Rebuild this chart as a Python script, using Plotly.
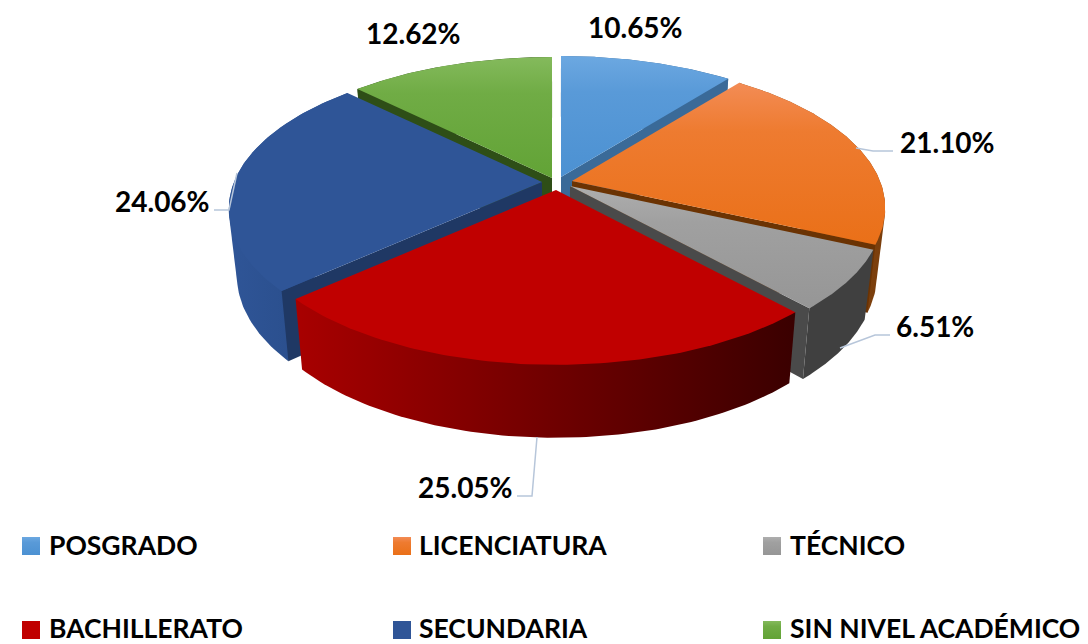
import numpy as np
import plotly.graph_objects as go

categories = ["POSGRADO", "LICENCIATURA", "TÉCNICO", "BACHILLERATO", "SECUNDARIA", "SIN NIVEL ACADÉMICO"]
values = [10.65, 21.10, 6.51, 25.05, 24.06, 12.62]
labels = ["10.65%", "21.10%", "6.51%", "25.05%", "24.06%", "12.62%"]

# styling / layout
apex_x = [561, 572, 570, 556, 542, 552]
apex_y = [177, 181, 186, 190, 182, 178]
top_colors = [("#6CA8E1", "#4C91D2"), ("#F38C55", "#EA7018"), ("#AEAEAE", "#969696"),
              ("#C00000", "#C00000"), ("#2F5597", "#2F5597"), ("#84BA5C", "#62A336")]
wall_colors = [("#3A6A98", "#3A6A98"), ("#8F4A10", "#7A3E0C"), ("#404040", "#404040"),
               ("#A80000", "#3A0000"), ("#2F5597", "#274A85"), ("#2F5018", "#2F5018")]
inner_colors = ["#3A6A98", "#6B3303", "#4A4A4A", "#3A0000", "#1F3864", "#2E4E17"]
draw_order = [0, 5, 1, 4, 2, 3]
label_x = [635, 947, 935, 465, 162, 413]
label_y = [27, 142, 326, 487, 201, 33]
legend_text_x = [48, 418, 789, 48, 418, 789]
legend_box_x = [22, 393, 763, 22, 393, 763]
legend_box_y = [546, 546, 546, 630, 630, 630]
legend_y = [545, 545, 545, 628, 628, 628]
leaders = [([856, 873, 893], [148, 151, 151]),
           ([890, 875, 840], [335, 335, 348]),
           ([517, 532, 537], [496, 496, 437]),
           ([214, 229, 237], [210, 210, 173])]
LEADER = "#B7C6DA"
CX = 555
R, A, B = 308, 143, 0.182
FONT = "Lato"


def ring(deg, ax, ay):
    t = np.radians(deg)
    s = -np.cos(t)
    d = 1 - B * s
    return ax + R * np.sin(t) / d, ay + A * s / d


def drop(x, y):
    s = np.clip((y - 190) / 175, -1, 1)
    return CX + (x - CX) * 0.975, y + 66 + 7 * s


def hull(xs, ys):
    pts = sorted(set(zip(np.round(xs, 3).tolist(), np.round(ys, 3).tolist())))

    def half(seq):
        out = []
        for p in seq:
            while len(out) >= 2 and ((out[-1][0] - out[-2][0]) * (p[1] - out[-2][1])
                                     - (out[-1][1] - out[-2][1]) * (p[0] - out[-2][0])) <= 0:
                out.pop()
            out.append(p)
        return out[:-1]

    h = half(pts) + half(pts[::-1])
    h.append(h[0])
    return [p[0] for p in h], [p[1] for p in h]


def mix(c0, c1, t):
    a = [int(c0[i:i + 2], 16) for i in (1, 3, 5)]
    b = [int(c1[i:i + 2], 16) for i in (1, 3, 5)]
    return "#" + "".join(f"{round(u + (v - u) * t):02X}" for u, v in zip(a, b))


fig = go.Figure()


def poly(x, y, c0, c1, kind="vertical"):
    x, y = np.asarray(x, float), np.asarray(y, float)
    if kind == "vertical":
        start, stop = float(y.min()), float(y.max())
        scale = [[0, c0], [0.3, mix(c0, c1, 0.6)], [1, c1]]
    else:
        start, stop = float(x.min()), float(x.max())
        scale = [[0, c0], [1, c1]]
    grad = dict(type=kind, start=start, stop=stop, colorscale=scale)
    fig.add_trace(go.Scatter(x=x, y=y, mode="lines", line=dict(width=0), fill="toself",
                             fillgradient=grad, hoverinfo="skip", showlegend=False))


edges = np.concatenate([[0], np.cumsum(values) / np.sum(values) * 360])
for i in draw_order:
    a0, a1 = edges[i], edges[i + 1]
    ax, ay = apex_x[i], apex_y[i]
    arc = np.linspace(a0, a1, 90)
    tx, ty = ring(arc, ax, ay)
    bx, by = drop(tx, ty)
    apx, apy = drop(ax, ay)
    # outer wall
    hx, hy = hull(np.r_[tx, bx], np.r_[ty, by])
    poly(hx, hy, wall_colors[i][0], wall_colors[i][1], "horizontal")
    # cut walls: only the ones whose wedge interior lies above the cut in the picture
    for k in (0, -1):
        dx = tx[k] - ax
        if abs(dx) < 1:
            continue
        edge_y = ay + (tx[45] - ax) / dx * (ty[k] - ay)
        if ty[45] < edge_y:
            poly([ax, tx[k], bx[k], apx, ax], [ay, ty[k], by[k], apy, ay],
                 inner_colors[i], inner_colors[i])
    # top
    poly(np.r_[ax, tx, ax], np.r_[ay, ty, ay], top_colors[i][0], top_colors[i][1])

for lx, ly in leaders:
    fig.add_trace(go.Scatter(x=lx, y=ly, mode="lines", line=dict(color=LEADER, width=1.5),
                             hoverinfo="skip", showlegend=False))

for i, c in enumerate(categories):
    x0, yc = legend_box_x[i], legend_box_y[i]
    poly([x0, x0 + 18, x0 + 18, x0, x0], [yc - 9, yc - 9, yc + 9, yc + 9, yc - 9],
         top_colors[i][0], top_colors[i][1])
    fig.add_annotation(x=legend_text_x[i] - 1, y=legend_y[i], text=f"<b>{c}</b>", showarrow=False,
                       xanchor="left", yanchor="middle", font=dict(family=FONT, size=26.5, color="#000"))
    fig.add_annotation(x=label_x[i], y=label_y[i], text=f"<b>{labels[i]}</b>", showarrow=False,
                       xanchor="center", yanchor="middle", font=dict(family=FONT, size=28, color="#000"))

fig.update_layout(width=1088, height=644, margin=dict(l=0, r=0, t=0, b=0),
                  paper_bgcolor="#fff", plot_bgcolor="#fff", showlegend=False,
                  xaxis=dict(range=[0, 1088], visible=False, fixedrange=True),
                  yaxis=dict(range=[644, 0], visible=False, fixedrange=True))
fig.write_html("out.html", config=dict(displayModeBar=False),
               post_script="document.body.style.margin='0';document.body.style.overflow='hidden';")
